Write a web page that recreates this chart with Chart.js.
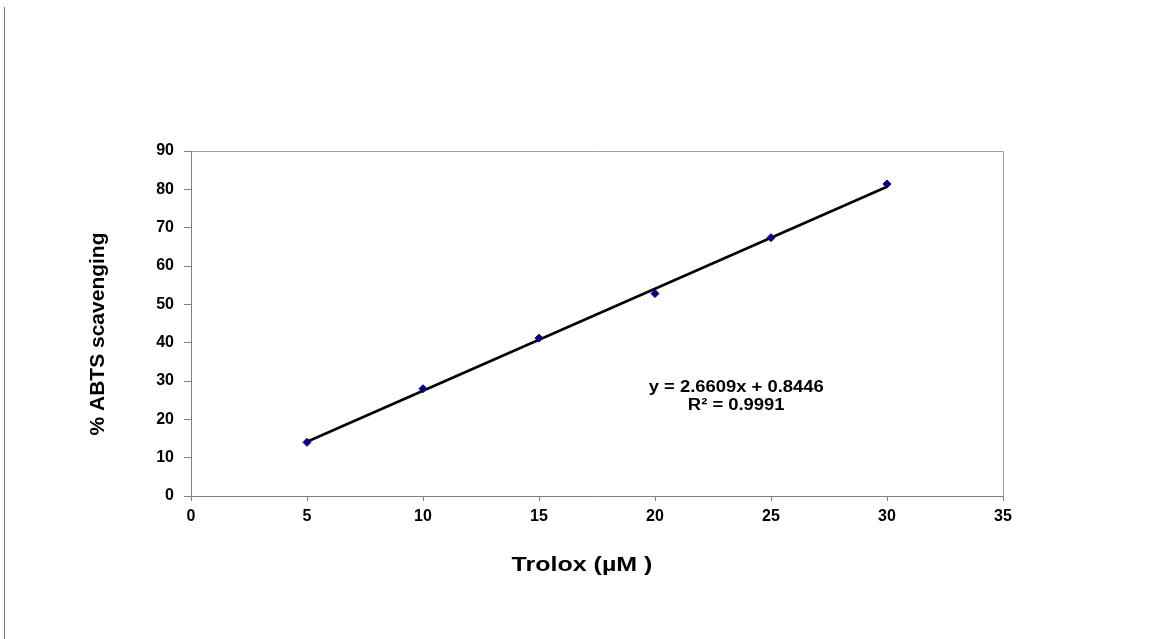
<!DOCTYPE html>
<html>
<head>
<meta charset="utf-8">
<script src="https://cdn.jsdelivr.net/npm/chart.js@4"></script>
<style>
  html, body { margin: 0; padding: 0; background: #fff; }
  #wrap { width: 1161px; height: 639px; position: relative; }
</style>
</head>
<body>
<div id="wrap"><canvas id="abtsChart"></canvas></div>
<script>
// data
const troloxConc = [5, 10, 15, 20, 25, 30];
const scavenging = [14.0, 28.0, 41.2, 52.8, 67.4, 81.4];
// trendline end points (from y = 2.6609x + 0.8446)
const trendX = [5, 30];
const trendY = [14.15, 80.67];
const equationLines = ['y = 2.6609x + 0.8446', 'R\u00B2 = 0.9991'];
const xTitle = 'Trolox (\u00B5M )';
const yTitle = '% ABTS scavenging';

const FONT = '"Liberation Sans", Arial, sans-serif';

// the original text is a bit wider than plain Arial
function wideText(ctx, text, x, y, sx) {
    ctx.save();
    ctx.translate(x, y);
    ctx.scale(sx, 1);
    ctx.fillText(text, 0, 0);
    ctx.restore();
}

// plot frame, page edge line, axis titles and equation label
const extras = {
    id: 'extras',
    beforeDraw(chart) {
        const ctx = chart.ctx;
        ctx.save();
        ctx.strokeStyle = '#777';
        ctx.lineWidth = 1;
        ctx.beginPath();
        ctx.moveTo(4.5, 7);
        ctx.lineTo(4.5, 639);
        ctx.stroke();
        ctx.restore();
    },
    afterDraw(chart) {
        const ctx = chart.ctx;
        const a = chart.chartArea;
        const xs = chart.scales.x, ys = chart.scales.y;
        ctx.save();
        ctx.strokeStyle = '#a0a0a0';
        ctx.lineWidth = 1;
        ctx.beginPath();
        ctx.moveTo(Math.round(a.left) + 0.5, Math.round(a.top) + 0.5);
        ctx.lineTo(Math.round(a.right) + 0.5, Math.round(a.top) + 0.5);
        ctx.lineTo(Math.round(a.right) + 0.5, Math.round(a.bottom) + 0.5);
        ctx.stroke();

        ctx.fillStyle = '#000';
        ctx.textAlign = 'center';
        ctx.textBaseline = 'middle';
        ctx.font = 'bold 20px ' + FONT;
        wideText(ctx, xTitle, 582, 565, 1.25);

        ctx.save();
        ctx.font = 'bold 21px ' + FONT;
        ctx.translate(98, 334);
        ctx.rotate(-Math.PI / 2);
        ctx.fillText(yTitle, 0, 0);
        ctx.restore();

        ctx.font = 'bold 16px ' + FONT;
        const ex = xs.getPixelForValue(23.5);
        const ey = ys.getPixelForValue(28.4);
        wideText(ctx, equationLines[0], ex, ey, 1.15);
        wideText(ctx, equationLines[1], ex, ey + 18, 1.15);
        ctx.restore();
    }
};

const ctx = document.getElementById('abtsChart').getContext('2d');
const abtsChart = new Chart(ctx, {
    type: 'scatter',
    data: {
        datasets: [{
            label: 'Trend',
            data: trendX.map((x, i) => ({ x: x, y: trendY[i] })),
            showLine: true,
            borderColor: '#000',
            borderWidth: 2.5,
            pointRadius: 0,
            order: 2
        }, {
            label: '% ABTS scavenging',
            data: troloxConc.map((x, i) => ({ x: x, y: scavenging[i] })),
            pointStyle: 'rectRot',
            pointRadius: 4,
            backgroundColor: '#000080',
            borderColor: '#000080',
            borderWidth: 1,
            order: 1
        }]
    },
    options: {
        responsive: true,
        maintainAspectRatio: false,
        animation: false,
        layout: {
            padding: { left: 0, right: 158, top: 151, bottom: 62 }
        },
        plugins: {
            legend: { display: false },
            tooltip: { enabled: false }
        },
        scales: {
            x: {
                type: 'linear',
                min: 0,
                max: 35,
                afterFit: function(scale) { scale.height = 81; },
                ticks: {
                    stepSize: 5,
                    padding: 6,
                    color: '#000',
                    font: { family: FONT, size: 16, weight: 'bold' }
                },
                grid: {
                    drawOnChartArea: false,
                    drawTicks: true,
                    tickLength: 5,
                    tickColor: '#808080'
                },
                border: { color: '#808080', width: 1 }
            },
            y: {
                type: 'linear',
                min: 0,
                max: 90,
                afterFit: function(scale) { scale.width = 191; },
                ticks: {
                    stepSize: 10,
                    padding: 10,
                    color: '#000',
                    font: { family: FONT, size: 16, weight: 'bold' }
                },
                grid: {
                    drawOnChartArea: false,
                    drawTicks: true,
                    tickLength: 7,
                    tickColor: '#808080'
                },
                border: { color: '#808080', width: 1 }
            }
        }
    },
    plugins: [extras]
});
</script>
</body>
</html>
